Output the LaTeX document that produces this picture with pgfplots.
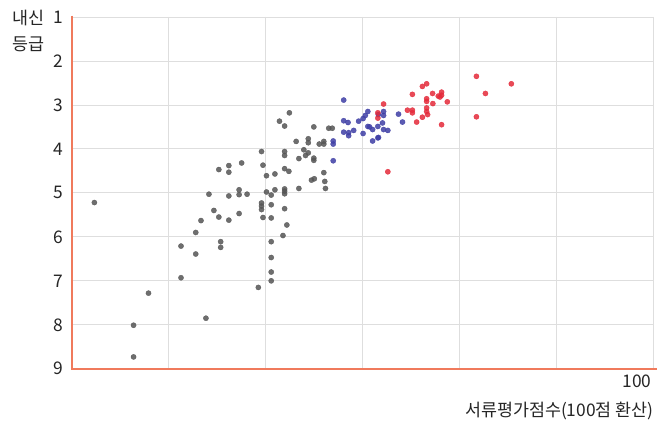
\documentclass[border=0pt]{standalone}
\usepackage{fontspec}
\setmainfont{Noto Sans CJK KR}
\usepackage{pgfplots}
\pgfplotsset{compat=1.18}

\definecolor{axisorange}{RGB}{240,122,92}
\definecolor{gridgray}{RGB}{222,222,222}
\definecolor{dotgray}{RGB}{85,85,85}
\definecolor{dotblue}{RGB}{62,62,165}
\definecolor{dotred}{RGB}{228,42,58}

\begin{document}
\begin{tikzpicture}
\path (-72bp,-55bp) rectangle (586bp,370bp);
\begin{axis}[
  scale only axis, width=584bp, height=353bp,
  at={(0,0)}, anchor=south west,
  xmin=40, xmax=100, ymin=1, ymax=9, y dir=reverse,
  xtick={50,60,70,80,90,100}, xticklabels={,,,,,100},
  ytick={1,...,9},
  grid=major, grid style={gridgray, line width=0.8bp},
  major tick length=0pt,
  axis line style={draw=none},
  clip=false,
  /pgf/number format/assume math mode=true,
  tick label style={font=\fontsize{17.5}{20}\selectfont, text=black!85},
  yticklabel style={xshift=-5bp},
  xticklabel style={anchor=north east, xshift=1bp, yshift=-3bp},
]
\addplot[dotgray, only marks, mark=*, mark size=2.6bp, opacity=0.85] coordinates {
(42.33,5.22) (46.37,8.01) (46.37,8.73) (47.91,7.28) (51.26,6.21) (51.26,6.93)
(52.78,5.90) (52.78,6.39) (53.32,5.63) (53.83,7.85) (54.14,5.03) (54.65,5.40)
(55.16,4.47) (55.16,5.55) (55.35,6.11) (55.35,6.24) (56.19,4.38) (56.19,4.53)
(56.19,5.07) (56.19,5.62) (57.25,4.93) (57.25,5.04) (57.25,5.47) (57.51,4.32)
(58.07,5.03) (59.23,7.15) (59.56,4.06) (59.56,5.23) (59.56,5.30) (59.56,5.38)
(59.71,4.37) (59.71,5.56) (60.07,4.61) (60.07,4.98) (60.56,5.05) (60.56,5.27)
(60.56,5.57) (60.56,6.11) (60.56,6.47) (60.56,6.80) (60.56,7.00) (60.94,4.57)
(60.94,4.93) (61.41,3.37) (61.77,5.97) (61.94,3.48) (61.94,4.06) (61.94,4.15)
(61.94,4.45) (61.94,4.91) (61.94,4.96) (61.94,5.02) (61.94,5.36) (62.17,5.73)
(62.38,4.51) (62.43,3.18) (63.13,3.83) (63.41,4.22) (63.41,4.90) (63.92,4.02)
(64.10,4.15) (64.38,3.77) (64.38,3.86) (64.38,4.09) (64.71,4.71) (64.95,3.50)
(64.95,4.21) (64.95,4.26) (65.00,4.68) (65.51,3.89) (65.98,3.83) (65.98,3.89)
(65.98,4.54) (66.08,4.74) (66.15,4.90) (66.49,3.53) (66.85,3.53)
};
\addplot[dotblue, only marks, mark=*, mark size=2.6bp, opacity=0.85] coordinates {
(66.95,3.82) (66.95,3.89) (66.95,4.27) (68.03,2.89) (68.03,3.36) (68.48,3.40)
(68.03,3.62) (68.54,3.63) (68.54,3.70) (69.06,3.58) (69.57,3.37) (70.03,3.31)
(70.26,3.24) (70.52,3.15) (70.03,3.65) (70.52,3.49) (70.70,3.50) (71.01,3.56)
(71.01,3.82) (71.55,3.75) (71.55,3.49) (72.03,3.41) (72.14,3.15) (72.14,3.24)
(72.14,3.56) (72.58,3.58) (71.62,3.74) (73.68,3.21) (74.09,3.39) (71.60,3.22)
};
\addplot[dotred, only marks, mark=*, mark size=2.6bp, opacity=0.85] coordinates {
(72.14,2.98) (71.55,3.18) (71.55,3.30) (72.58,4.52) (74.60,3.12) (75.11,3.12)
(75.11,3.18) (75.11,2.76) (75.55,3.39) (76.14,2.58) (76.58,2.52) (76.14,3.28)
(76.58,2.86) (76.58,2.92) (76.58,3.07) (76.58,3.15) (76.68,3.22) (77.19,2.74)
(77.22,2.97) (77.78,2.80) (77.96,2.82) (78.12,2.71) (78.12,2.78) (78.12,3.45)
(78.71,2.93) (81.71,2.35) (82.64,2.74) (85.31,2.52) (81.71,3.27)
};
\draw[axisorange, line width=2.5bp] (axis cs:40,0.97) -- (axis cs:40,9) -- (axis cs:100.3,9);
\node[anchor=base west, inner sep=0pt, font=\fontsize{17.5}{20}\selectfont, text=black!85]
  at ([xshift=-60bp]axis cs:40,1.175) {내신};
\node[anchor=base west, inner sep=0pt, font=\fontsize{17.5}{20}\selectfont, text=black!85]
  at ([xshift=-60bp]axis cs:40,1.766) {등급};
\node[anchor=base east, inner sep=0pt, font=\fontsize{17.5}{20}\selectfont, text=black!85]
  at ([yshift=-48bp]axis cs:100,9) {서류평가점수(100점 환산)};
\end{axis}
\end{tikzpicture}
\end{document}
